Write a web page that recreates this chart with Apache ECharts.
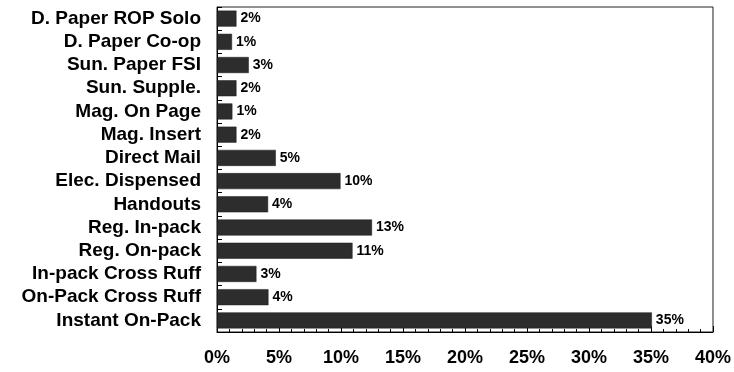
<!DOCTYPE html>
<html>
<head>
<meta charset="utf-8">
<script src="https://cdn.jsdelivr.net/npm/echarts@6/dist/echarts.min.js"></script>
<style>
html,body{margin:0;padding:0;background:#fff;}
#chart{width:734px;height:372px;}
</style>
</head>
<body>
<div id="chart"></div>
<script>
var categories = ['D. Paper ROP Solo','D. Paper Co-op','Sun. Paper FSI','Sun. Supple.','Mag. On Page','Mag. Insert','Direct Mail','Elec. Dispensed','Handouts','Reg. In-pack','Reg. On-pack','In-pack Cross Ruff','On-Pack Cross Ruff','Instant On-Pack'];
var values = [1.57,1.21,2.56,1.57,1.24,1.57,4.74,9.96,4.12,12.5,10.93,3.18,4.15,35.07];
var printedLabels = ['2%','1%','3%','2%','1%','2%','5%','10%','4%','13%','11%','3%','4%','35%'];
var xTicks = [0,5,10,15,20,25,30,35,40];

var FONT = 'Liberation Sans, Arial, sans-serif';
var chart = echarts.init(document.getElementById('chart'));
chart.setOption({
  animation: false,
  backgroundColor: '#fff',
  grid: {left: 217, right: 21, top: 7, bottom: 40, show: true, borderColor: '#222', borderWidth: 1},
  xAxis: {
    type: 'value', min: xTicks[0], max: xTicks[xTicks.length-1], interval: 5,
    axisLine: {show: true, lineStyle: {color: '#000', width: 1}},
    axisTick: {show: true, inside: true, length: 6, lineStyle: {color: '#000'}},
    minorTick: {show: true, splitNumber: 5, length: 3, lineStyle: {color: '#000'}},
    splitLine: {show: false},
    axisLabel: {formatter: function(v){return v+'%';}, color: '#000', fontSize: 18, fontWeight: 'bold', fontFamily: FONT, margin: 17}
  },
  yAxis: {
    type: 'category', data: categories, inverse: true,
    axisLine: {show: true, lineStyle: {color: '#000', width: 1}},
    axisTick: {show: true, inside: true, length: 5, lineStyle: {color: '#000'}},
    axisLabel: {interval: 0, color: '#000', fontSize: 19, fontWeight: 'bold', fontFamily: FONT, margin: 16}
  },
  series: [{
    type: 'bar',
    data: values,
    barCategoryGap: '31%',
    itemStyle: {color: '#2d2d2d', borderColor: '#1a1a1a', borderWidth: 0.5},
    label: {
      show: true, position: 'right', distance: 4,
      formatter: function(p){return printedLabels[p.dataIndex];},
      color: '#000', fontSize: 14, fontWeight: 'bold', fontFamily: FONT
    }
  }]
});
</script>
</body>
</html>
